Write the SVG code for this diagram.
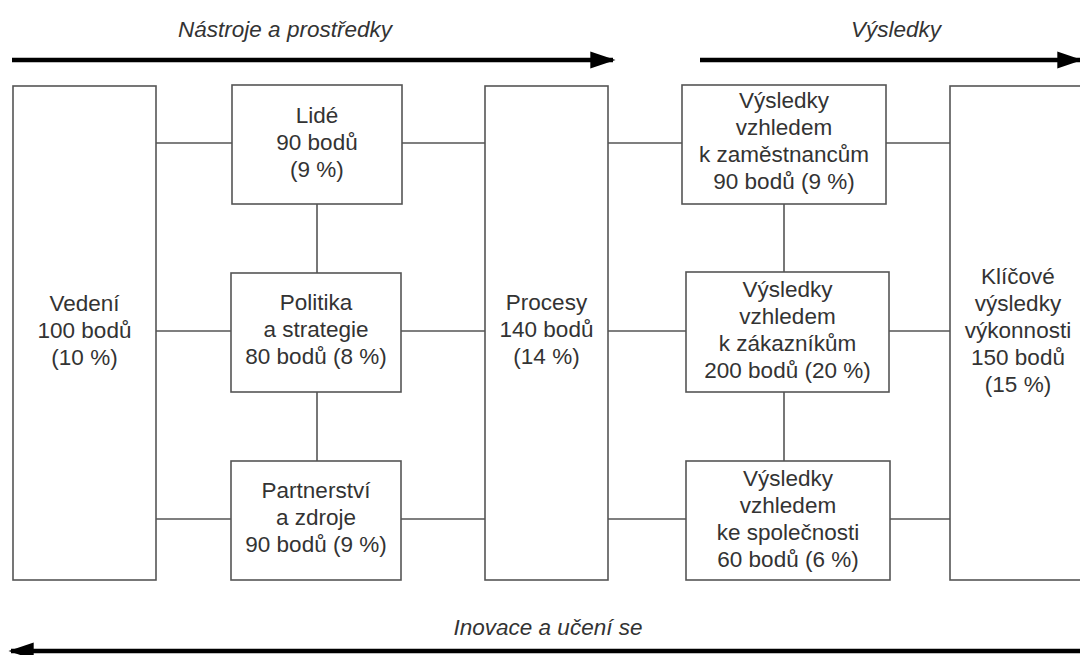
<svg xmlns="http://www.w3.org/2000/svg" width="1080" height="655" viewBox="0 0 1080 655">
<defs>
<style>
.box{fill:#fff;stroke:#555;stroke-width:1.6}
.t{font-family:"Liberation Sans",Arial,sans-serif;font-size:22.5px;fill:#333;text-anchor:middle}
.it{font-family:"Liberation Sans",Arial,sans-serif;font-size:22.5px;fill:#333;text-anchor:middle;font-style:italic}
.c{stroke:#555;stroke-width:1.6;fill:none}
.big{stroke:#000;stroke-width:4.5;fill:none}
</style>
<marker id="ah" viewBox="0 0 10 10" refX="9" refY="5" markerWidth="5.6" markerHeight="3.8" orient="auto" markerUnits="strokeWidth" preserveAspectRatio="none">
<path d="M0,0 L10,5 L0,10 z" fill="#000"/>
</marker>
</defs>
<rect width="1080" height="655" fill="#fff"/>

<g id="flow-arrows">
<text class="it" x="285" y="37">Nástroje a prostředky</text>
<line class="big" x1="12" y1="60" x2="613" y2="60" marker-end="url(#ah)"/>
<text class="it" x="896" y="37">Výsledky</text>
<line class="big" x1="700" y1="60" x2="1080" y2="60" marker-end="url(#ah)"/>
<text class="it" x="548" y="635">Inovace a učení se</text>
<line class="big" x1="1080" y1="651" x2="11" y2="651" marker-end="url(#ah)"/>
</g>

<g id="connectors">
<line class="c" x1="156" y1="143" x2="232" y2="143"/>
<line class="c" x1="402" y1="143" x2="485" y2="143"/>
<line class="c" x1="156" y1="331" x2="231" y2="331"/>
<line class="c" x1="401" y1="331" x2="485" y2="331"/>
<line class="c" x1="156" y1="519" x2="231" y2="519"/>
<line class="c" x1="401" y1="519" x2="485" y2="519"/>
<line class="c" x1="317" y1="204" x2="317" y2="273"/>
<line class="c" x1="317" y1="392" x2="317" y2="461"/>
<line class="c" x1="608" y1="143" x2="682" y2="143"/>
<line class="c" x1="886" y1="143" x2="950" y2="143"/>
<line class="c" x1="608" y1="331" x2="686" y2="331"/>
<line class="c" x1="889" y1="331" x2="950" y2="331"/>
<line class="c" x1="608" y1="519" x2="686" y2="519"/>
<line class="c" x1="890" y1="519" x2="950" y2="519"/>
<line class="c" x1="784" y1="204" x2="784" y2="272"/>
<line class="c" x1="784" y1="392" x2="784" y2="461"/>
</g>

<g id="vedeni">
<rect class="box" x="13" y="86" width="143" height="494"/>
<text class="t" x="84.5" y="311">Vedení</text>
<text class="t" x="84.5" y="338">100 bodů</text>
<text class="t" x="84.5" y="365">(10 %)</text>
</g>

<g id="lide">
<rect class="box" x="232" y="85" width="170" height="119"/>
<text class="t" x="317" y="123">Lidé</text>
<text class="t" x="317" y="150">90 bodů</text>
<text class="t" x="317" y="177">(9 %)</text>
</g>

<g id="politika">
<rect class="box" x="231" y="273" width="170" height="119"/>
<text class="t" x="316" y="310">Politika</text>
<text class="t" x="316" y="337">a strategie</text>
<text class="t" x="316" y="364">80 bodů (8 %)</text>
</g>

<g id="partnerstvi">
<rect class="box" x="231" y="461" width="170" height="119"/>
<text class="t" x="316" y="498">Partnerství</text>
<text class="t" x="316" y="525">a zdroje</text>
<text class="t" x="316" y="552">90 bodů (9 %)</text>
</g>

<g id="procesy">
<rect class="box" x="485" y="86" width="123" height="494"/>
<text class="t" x="546.5" y="310">Procesy</text>
<text class="t" x="546.5" y="337">140 bodů</text>
<text class="t" x="546.5" y="364">(14 %)</text>
</g>

<g id="zamestnanci">
<rect class="box" x="682" y="85" width="204" height="119"/>
<text class="t" x="784" y="108">Výsledky</text>
<text class="t" x="784" y="135">vzhledem</text>
<text class="t" x="784" y="162">k zaměstnancům</text>
<text class="t" x="784" y="189">90 bodů (9 %)</text>
</g>

<g id="zakaznici">
<rect class="box" x="686" y="272" width="203" height="120"/>
<text class="t" x="787.5" y="297">Výsledky</text>
<text class="t" x="787.5" y="324">vzhledem</text>
<text class="t" x="787.5" y="351">k zákazníkům</text>
<text class="t" x="787.5" y="378">200 bodů (20 %)</text>
</g>

<g id="spolecnost">
<rect class="box" x="686" y="461" width="204" height="119"/>
<text class="t" x="788" y="486">Výsledky</text>
<text class="t" x="788" y="513">vzhledem</text>
<text class="t" x="788" y="540">ke společnosti</text>
<text class="t" x="788" y="567">60 bodů (6 %)</text>
</g>

<g id="klicove">
<rect class="box" x="950" y="86" width="143" height="494"/>
<text class="t" x="1018" y="284">Klíčové</text>
<text class="t" x="1018" y="311">výsledky</text>
<text class="t" x="1018" y="338">výkonnosti</text>
<text class="t" x="1018" y="365">150 bodů</text>
<text class="t" x="1018" y="392">(15 %)</text>
</g>
</svg>
